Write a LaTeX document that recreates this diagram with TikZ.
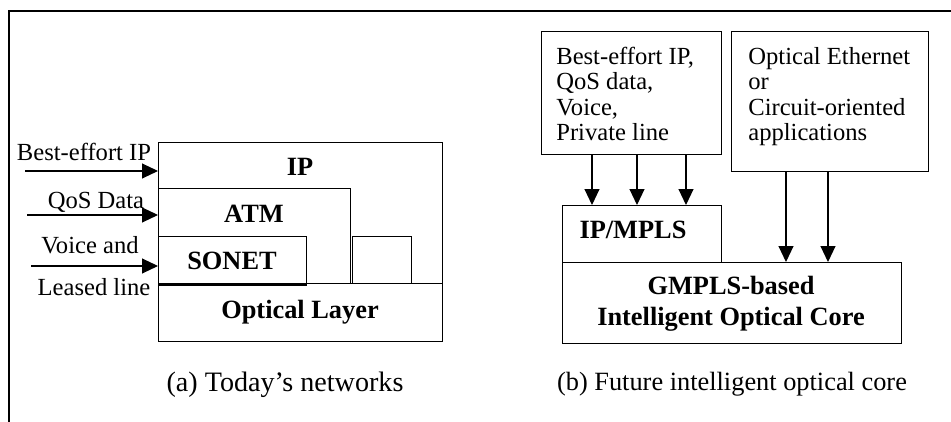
\documentclass[tikz,border=0pt]{standalone}
\usepackage{fontspec}
\setmainfont{Liberation Serif}
\usetikzlibrary{arrows.meta,positioning}
\tikzset{
    layer/.style={
    rectangle,draw=black,line width=0.8pt,inner sep=0pt,anchor=north west
    },
    layertext/.style={
    font=\fontsize{15}{17.6}\selectfont\bfseries,inner sep=0pt,align=center
    },
    plaintext/.style={
    font=\fontsize{14}{14.4}\selectfont,inner sep=0pt
    },
    caption/.style={
    font=\fontsize{15}{18}\selectfont,inner sep=0pt
    },
    flow/.style={
    -{Triangle[length=0.32cm,width=0.3cm]},line width=0.6pt
    },
}

\begin{document}
\begin{tikzpicture}[x=0.02cm,y=-0.02cm]
   \useasboundingbox (0,0) rectangle (951,422);
   % frame
   \draw[line width=1.1pt] (951,11) -- (9,11) -- (9,422);

   % (a) today's networks
   \node[layer,minimum width=5.68cm,minimum height=2.82cm] (ip) at (158,142) {};
   \node[layer,minimum width=3.84cm,minimum height=1.90cm] (atm) at (158,188) {};
   \node[layer,minimum width=2.96cm,minimum height=0.94cm] (sonet) at (158,236) {};
   \node[layer,minimum width=1.18cm,minimum height=0.94cm] (spare) at (352,236) {};
   \node[layer,minimum width=5.68cm,minimum height=1.16cm] (optical) at (158,283) {};
   \draw[line width=2pt] (sonet.south west) -- (sonet.south east);

   \node[layertext] (iplabel) at (300,167) {IP};
   \node[layertext] (atmlabel) at (254,214) {ATM};
   \node[layertext] (sonetlabel) at (232,261) {SONET};
   \node[layertext] (opticallabel) at (300,312) {Optical Layer};

   \coordinate (in1) at (25,171);
   \coordinate (in2) at (27,215);
   \coordinate (in3) at (31,266);
   \draw[flow] (in1) -- (ip.west |- in1);
   \draw[flow] (in2) -- (ip.west |- in2);
   \draw[flow] (in3) -- (ip.west |- in3);
   \node[plaintext] (besteffort) at (84,152) {Best-effort IP};
   \node[plaintext] (qos) at (96,202) {QoS Data};
   \node[plaintext] (voice) at (90,245) {Voice and};
   \node[plaintext] (leased) at (94,287) {Leased line};

   \node[caption,font=\fontsize{16}{18}\selectfont] (captiona) at (285,385) {(a) Today's networks};

   % (b) future intelligent optical core
   \node[layer,minimum width=3.6cm,minimum height=2.46cm] (apps) at (541,31) {};
   \node[plaintext,align=left,anchor=north west] (appstext) at (556,47)
      {Best-effort IP,\\QoS data,\\Voice,\\Private line};
   \node[layer,minimum width=3.94cm,minimum height=2.80cm] (circuit) at (731,31) {};
   \node[plaintext,align=left,anchor=north west] (circuittext) at (748,47)
      {Optical Ethernet\\or\\Circuit-oriented\\applications};
   \node[layer,minimum width=3.18cm,minimum height=1.14cm] (mpls) at (562,205) {};
   \node[layer,minimum width=6.78cm,minimum height=1.62cm] (core) at (562,262) {};
   \node[layertext] (mplslabel) at (633,230) {IP/MPLS};
   \node[layertext] (corelabel) at (731,304) {GMPLS-based\\Intelligent Optical Core};

   \foreach \x in {592,637,686}
      \draw[flow] (apps.south -| \x,0) -- (mpls.north -| \x,0);
   \foreach \x in {786,828}
      \draw[flow] (circuit.south -| \x,0) -- (core.north -| \x,0);

   \node[caption] (captionb) at (732,384) {(b) Future intelligent optical core};
\end{tikzpicture}
\end{document}
